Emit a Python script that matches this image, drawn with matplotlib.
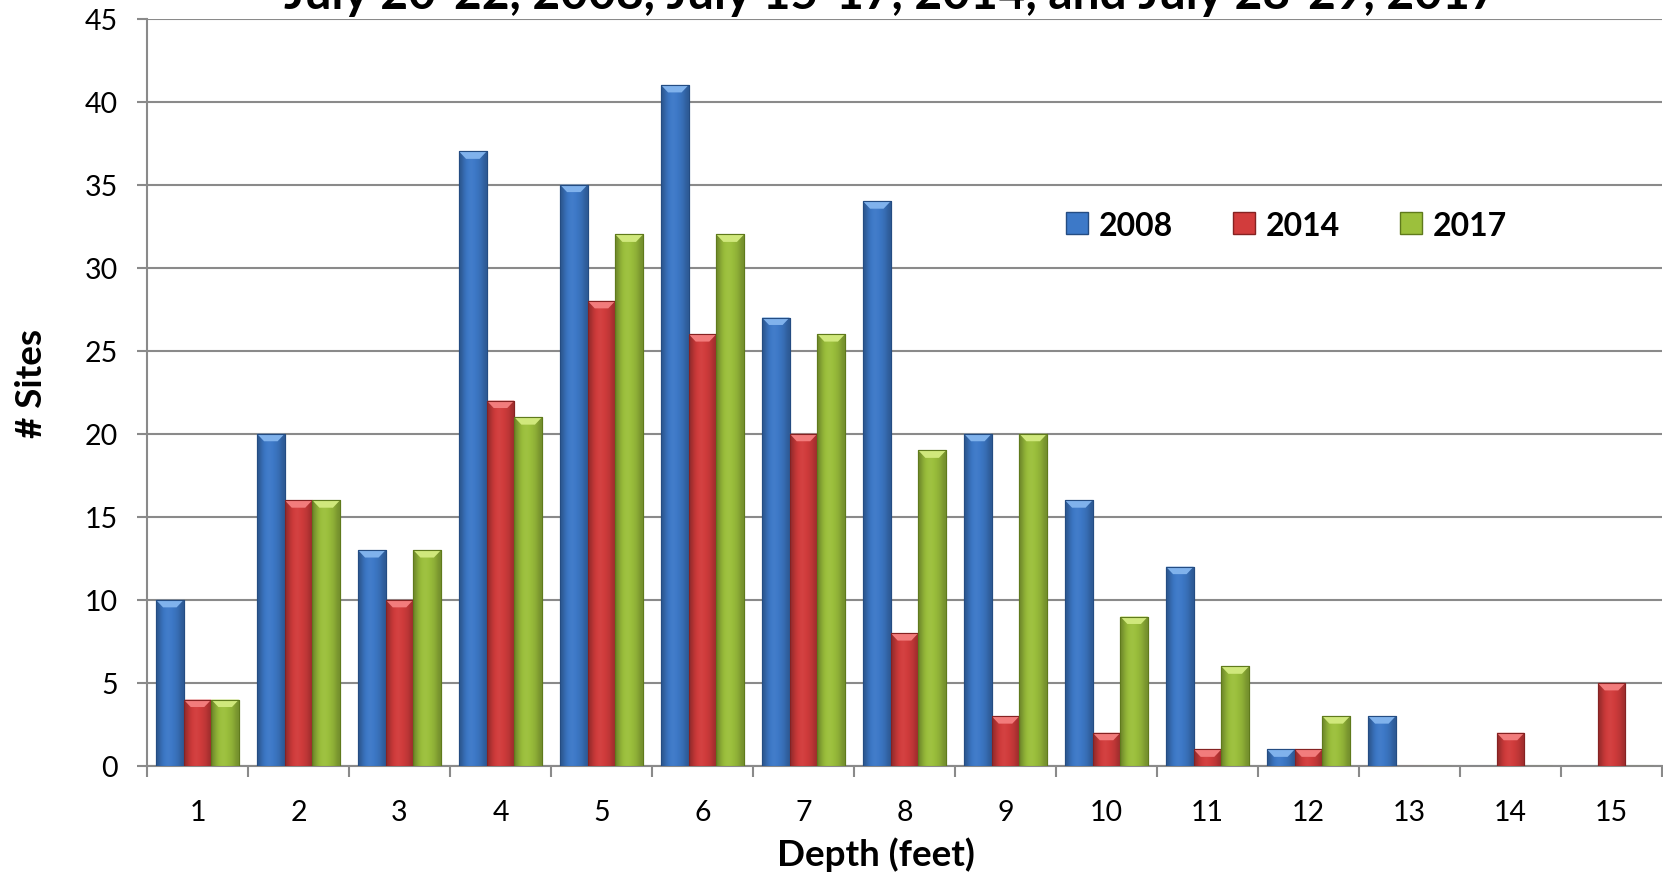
import numpy as np
import matplotlib
matplotlib.use("Agg")
import matplotlib.pyplot as plt
from matplotlib.patches import Patch, Polygon
from matplotlib.colors import to_rgb

#
#   Data
#
depths = list(range(1, 16))
sites_2008 = [10, 20, 13, 37, 35, 41, 27, 34, 20, 16, 12, 1, 3, 0, 0]
sites_2014 = [4, 16, 10, 22, 28, 26, 20, 8, 3, 2, 1, 1, 0, 2, 5]
sites_2017 = [4, 16, 13, 21, 32, 32, 26, 19, 20, 9, 6, 3, 0, 0, 0]
years = ["2008", "2014", "2017"]
title = "July 20-22, 2008, July 15-17, 2014, and July 28-29, 2017"

colors = ["#3d79c8", "#d23c3c", "#9cc03c"]
edges = ["#244c82", "#852222", "#5f7a1c"]
tops = ["#80b2ec", "#f27c7c", "#d0e87c"]


def shade(c, f):
    # darken (f<1) or lighten (f>1) a colour
    r = np.array(to_rgb(c))
    if f < 1:
        return r * f
    return r + (1 - r) * (f - 1)


plt.rcParams['font.family'] = ['Lato', 'DejaVu Sans']
W, H = 1663, 878
fig = plt.figure(figsize=(W / 100, H / 100), dpi=100)
ax = fig.add_axes([147 / W, 1 - 767 / H, (1662 - 147) / W, (767 - 19.5) / H])

x = np.array(depths, dtype=float)
bw = 0.274
series = [sites_2008, sites_2014, sites_2017]
prof = [0.72, 0.9, 1.0, 1.04, 1.0, 0.95, 0.88, 0.75]
for i, vals in enumerate(series):
    xs = x + (i - 1) * bw
    bars = ax.bar(xs, vals, width=bw, color=colors[i], edgecolor=edges[i],
                  linewidth=0.8, zorder=3)
    grad = np.array([[shade(colors[i], f) for f in prof]])
    bev_x = 0.07
    bev_y = 0.45
    for b, xc, v in zip(bars, xs, vals):
        if v <= 0:
            continue
        l, r = xc - bw / 2, xc + bw / 2
        im = ax.imshow(grad, extent=(l, r, 0, v), aspect='auto',
                       interpolation='bicubic', zorder=3.5)
        im.set_clip_path(b)
        # lighter bevel on top of each bar
        poly = Polygon([(l, v), (r, v), (r - bev_x, v - bev_y), (l + bev_x, v - bev_y)],
                       closed=True, facecolor=tops[i], edgecolor='none', zorder=4)
        ax.add_patch(poly)
        ax.bar(xc, v, width=bw, color='none', edgecolor=edges[i], linewidth=0.8, zorder=4.5)

ax.set_xlim(0.5, 15.5)
ax.set_ylim(0, 45)
ax.set_yticks(np.arange(0, 46, 5))
ax.set_xticks(x)
ax.set_xticklabels([str(d) for d in depths])
ax.set_xticks(np.arange(0.5, 15.6, 1), minor=True)

gray = "#8a8a8a"
ax.grid(axis='y', color=gray, linewidth=1.5, zorder=0)
ax.set_axisbelow(True)
for s in ['top', 'right']:
    ax.spines[s].set_visible(False)
for s in ['left', 'bottom']:
    ax.spines[s].set_color(gray)
    ax.spines[s].set_linewidth(1.5)
ax.tick_params(axis='x', which='major', length=0, pad=24, labelsize=20.5)
ax.tick_params(axis='x', which='minor', length=8, width=1.5, color=gray, direction='out')
ax.tick_params(axis='y', length=7, width=1.5, color=gray, pad=14, labelsize=20.5)

# axis titles placed where the reference has them
fig.text(876 / W, 1 - 866 / H, "Depth (feet)", ha='center', va='baseline',
         fontsize=26.5, fontweight='bold')
fig.text(31 / W, 1 - 383 / H, "# Sites", ha='center', va='center', rotation=90,
         fontsize=26.5, fontweight='bold')

fig.text(891 / W, 1 - 9 / H, title, ha='center', va='baseline',
         fontsize=34.5, fontweight='bold')

handles = [Patch(facecolor=colors[i], edgecolor=edges[i]) for i in range(3)]
ax.legend(handles, years, loc='center left', bbox_to_anchor=(1066 / W, 1 - 226 / H),
          bbox_transform=fig.transFigure, ncol=3, frameon=False,
          prop={'size': 23, 'weight': 'bold'}, handlelength=0.68, handleheight=0.68,
          handletextpad=0.33, columnspacing=1.9, borderpad=0, borderaxespad=0)

fig.savefig("out.png", dpi=100)
